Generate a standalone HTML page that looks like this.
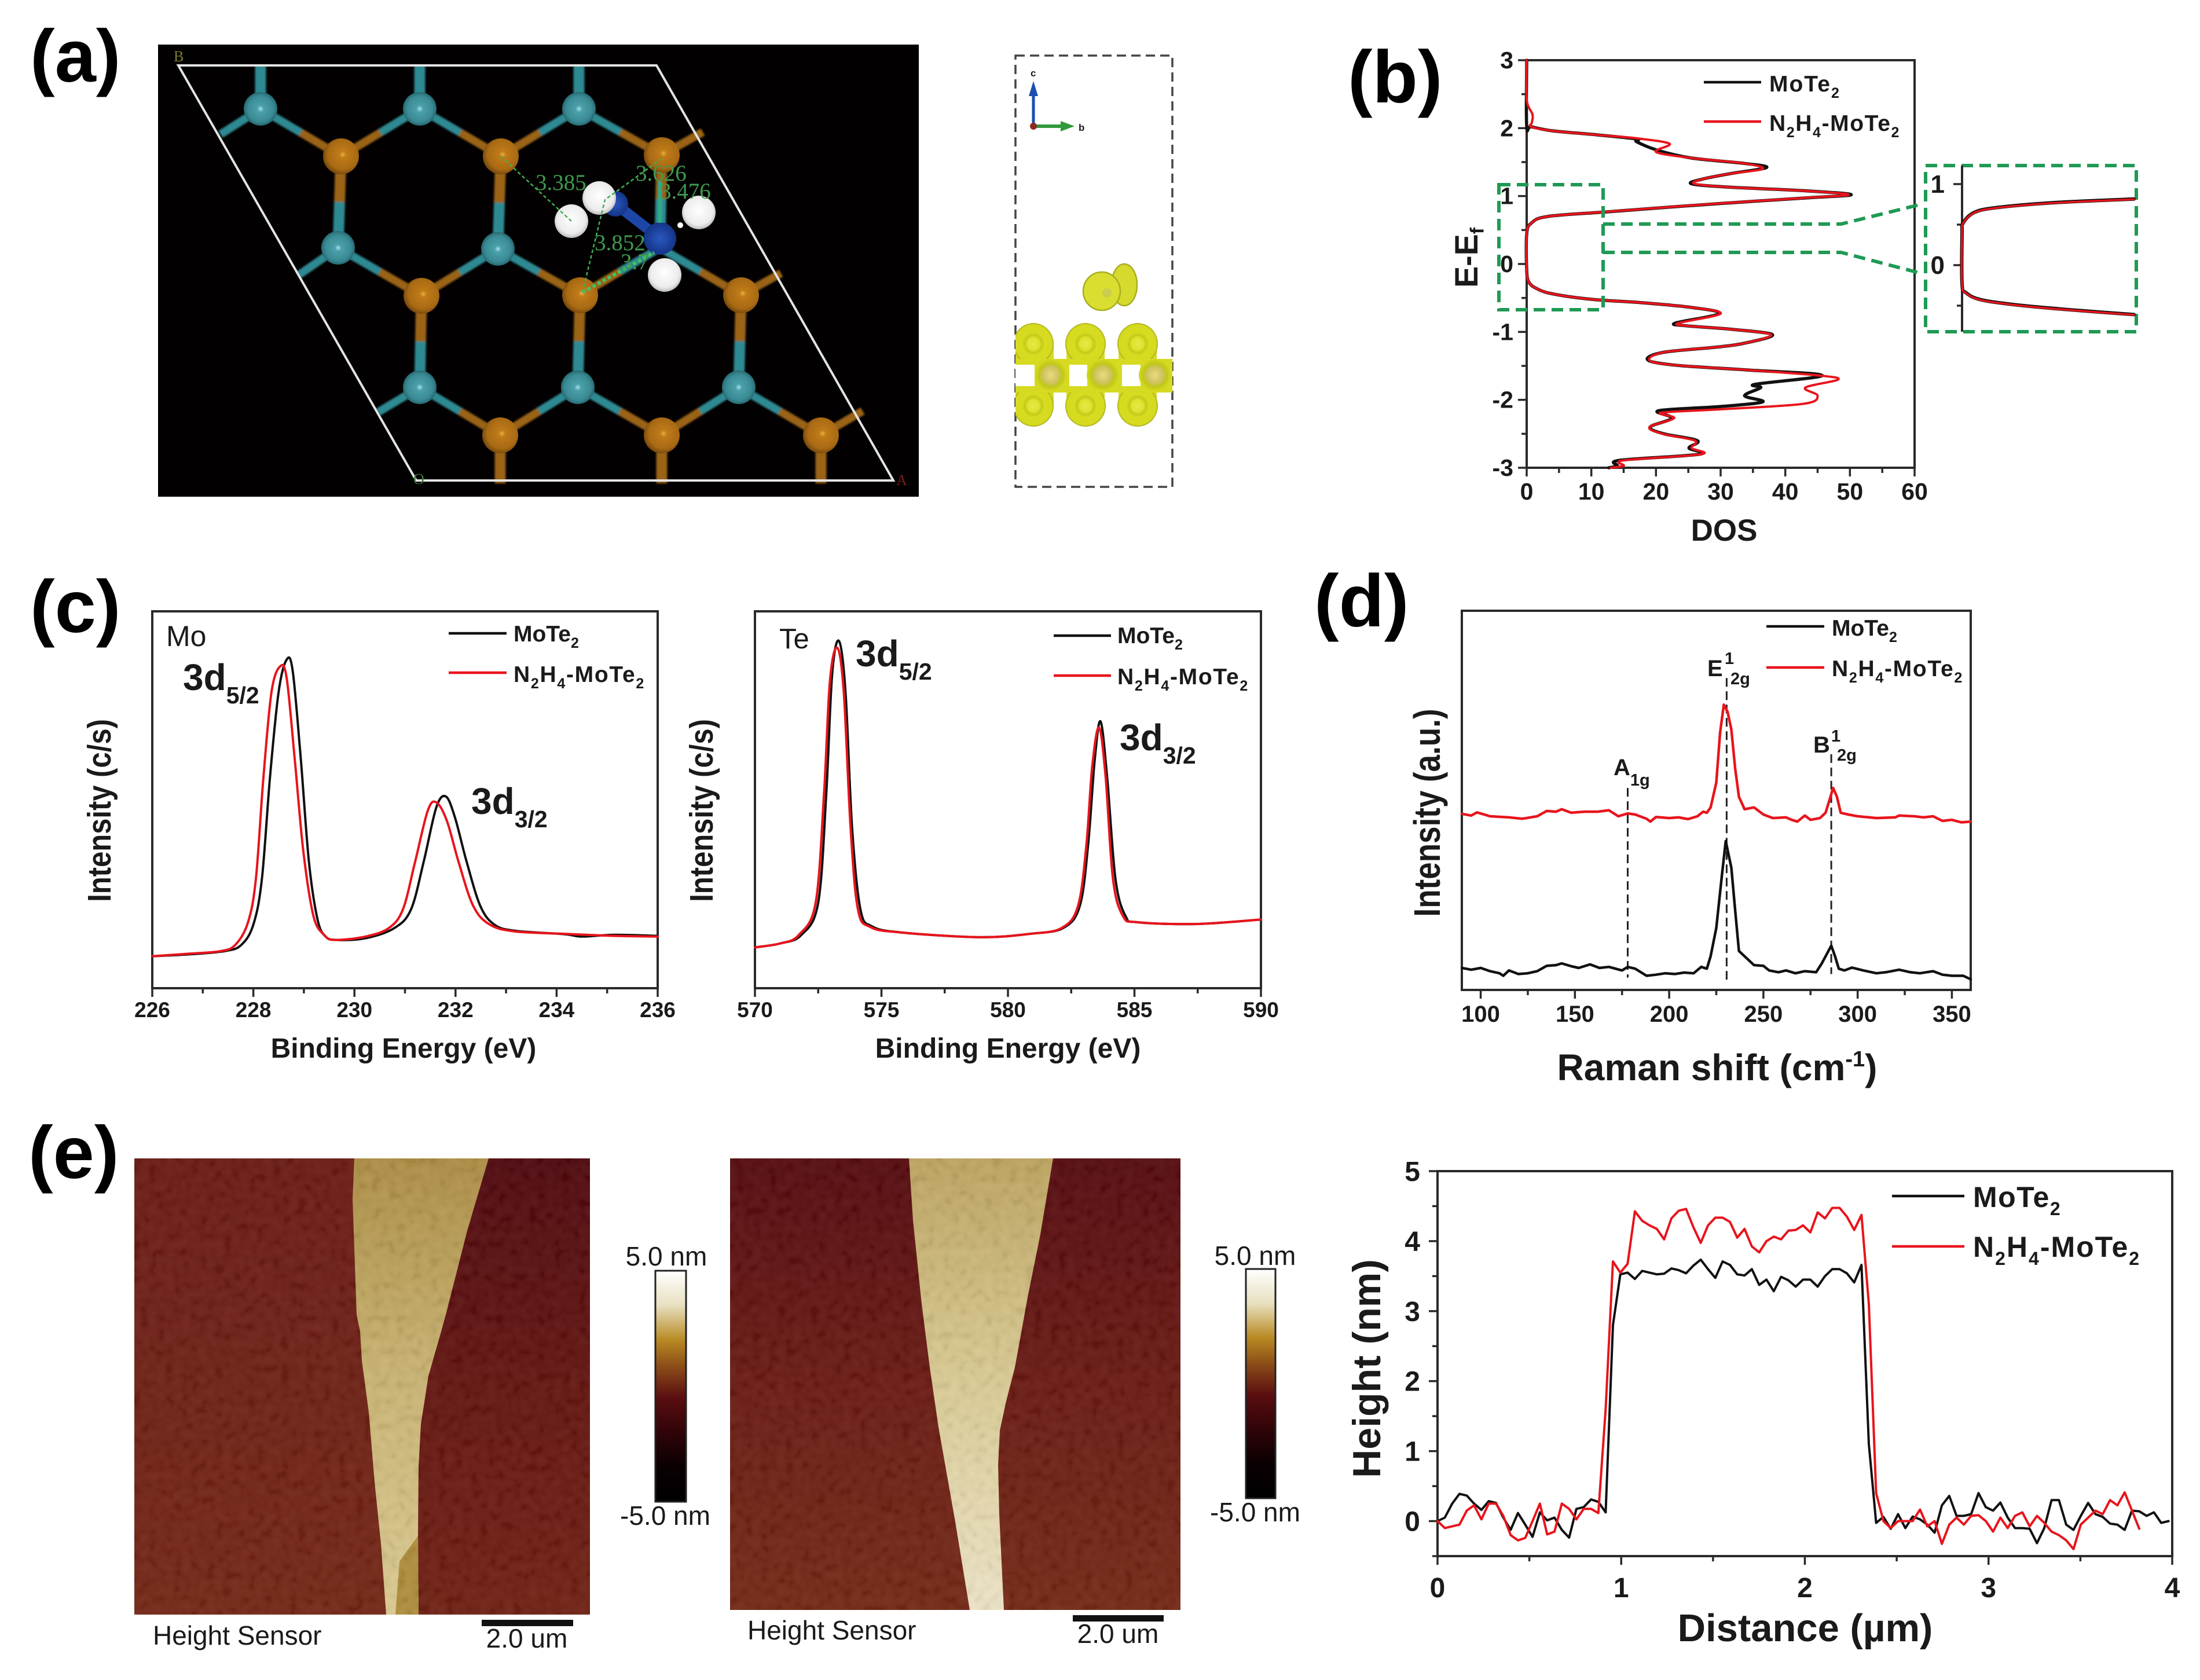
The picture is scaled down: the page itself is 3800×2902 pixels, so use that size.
<!DOCTYPE html>
<html lang="en">
<head>
<meta charset="utf-8">
<title>MoTe2 and N2H4-MoTe2 characterization figure</title>
<style>
html,body{margin:0;padding:0;background:#fff;}
svg{display:block;}
text{font-family:"Liberation Sans",sans-serif;fill:#1a1a1a;}
.panel{font-size:128px;font-weight:bold;fill:#000;}
.b{font-weight:bold;}
.serif{font-family:"Liberation Serif",serif;}
</style>
</head>
<body>
<svg id="figure" xmlns="http://www.w3.org/2000/svg" width="3800" height="2902" viewBox="0 0 3800 2902">
<defs>
  <radialGradient id="tealBall" cx="0.5" cy="0.5" r="0.55"><stop offset="0" stop-color="#a8e0e8"/><stop offset="0.18" stop-color="#4aa0aa"/><stop offset="0.7" stop-color="#3a8a94"/><stop offset="1" stop-color="#1f5a62"/></radialGradient>
  <radialGradient id="orangeBall" cx="0.55" cy="0.45" r="0.6"><stop offset="0" stop-color="#e8b040"/><stop offset="0.16" stop-color="#c07a18"/><stop offset="0.7" stop-color="#a86a14"/><stop offset="1" stop-color="#6a400a"/></radialGradient>
  <radialGradient id="whiteBall" cx="0.5" cy="0.45" r="0.6"><stop offset="0" stop-color="#ffffff"/><stop offset="0.7" stop-color="#ececec"/><stop offset="1" stop-color="#a8a8a8"/></radialGradient>
  <radialGradient id="blueBall" cx="0.5" cy="0.5" r="0.55"><stop offset="0" stop-color="#2a58c0"/><stop offset="1" stop-color="#123080"/></radialGradient>
  <radialGradient id="yellowLobe" cx="0.5" cy="0.5" r="0.5"><stop offset="0" stop-color="#e6e84a"/><stop offset="0.3" stop-color="#dfe22c"/><stop offset="0.42" stop-color="#c2ca1a"/><stop offset="0.56" stop-color="#d8dc20"/><stop offset="0.92" stop-color="#d6da20"/><stop offset="1" stop-color="#a2a81c"/></radialGradient>
  <radialGradient id="moAtom" cx="0.5" cy="0.5" r="0.5"><stop offset="0" stop-color="#e8dc80"/><stop offset="0.5" stop-color="#cfc260"/><stop offset="0.72" stop-color="#bfc818"/><stop offset="1" stop-color="#d6da20"/></radialGradient>
  <linearGradient id="colorScale" x1="0" y1="0" x2="0" y2="1">
    <stop offset="0" stop-color="#ffffff"/><stop offset="0.15" stop-color="#e8e0c0"/><stop offset="0.3" stop-color="#b88a22"/><stop offset="0.42" stop-color="#8a4a18"/><stop offset="0.55" stop-color="#5a0e10"/><stop offset="0.7" stop-color="#300408"/><stop offset="0.85" stop-color="#0a0002"/><stop offset="1" stop-color="#000000"/>
  </linearGradient>
  <linearGradient id="afmLeftSub" x1="0" y1="0" x2="0" y2="1"><stop offset="0" stop-color="#6a1a13"/><stop offset="1" stop-color="#742615"/></linearGradient>
  <linearGradient id="afmRightSub" x1="0" y1="0" x2="0" y2="1"><stop offset="0" stop-color="#50080e"/><stop offset="0.5" stop-color="#64140f"/><stop offset="1" stop-color="#702012"/></linearGradient>
  <linearGradient id="afmLeft2" x1="0" y1="0" x2="0" y2="1"><stop offset="0" stop-color="#560a0f"/><stop offset="0.5" stop-color="#6a1a12"/><stop offset="1" stop-color="#742815"/></linearGradient>
  <linearGradient id="flakeA" x1="0" y1="0" x2="0" y2="1"><stop offset="0" stop-color="#ae8e44"/><stop offset="0.5" stop-color="#ccb674"/><stop offset="1" stop-color="#dccb92"/></linearGradient>
  <linearGradient id="flakeB" x1="0" y1="0" x2="0" y2="1"><stop offset="0" stop-color="#bea560"/><stop offset="0.5" stop-color="#dccd95"/><stop offset="1" stop-color="#efe5c8"/></linearGradient>
  <filter id="afmNoise" x="0" y="0" width="1" height="1">
    <feTurbulence type="fractalNoise" baseFrequency="0.07" numOctaves="2" seed="4"/>
    <feGaussianBlur stdDeviation="2"/>
    <feColorMatrix type="matrix" values="1.6 0 0 0 -0.5  1.6 0 0 0 -0.5  1.6 0 0 0 -0.5  0 0 0 0 0.07"/>
  </filter>
  <filter id="softBlur" x="-5%" y="-5%" width="110%" height="110%"><feGaussianBlur stdDeviation="1.6"/></filter>
  <clipPath id="chgClip"><rect x="1754" y="96" width="271" height="745"/></clipPath>
  <clipPath id="crystalClip"><rect x="273" y="77" width="1314" height="781"/></clipPath>
</defs>

<!-- panel letters -->
<text class="panel" x="52" y="141">(a)</text>
<text class="panel" x="2328" y="177">(b)</text>
<text class="panel" x="52" y="1092">(c)</text>
<text class="panel" x="2270" y="1082">(d)</text>
<text class="panel" x="49" y="2035">(e)</text>

<!-- panel a -->
<g id="crystal" clip-path="url(#crystalClip)">
  <rect x="273" y="77" width="1314" height="781" fill="#030001"/>
  <g id="crystalBonds" filter="url(#softBlur)"></g>
  <g id="crystalAtoms"></g>
  <polygon points="308,113 1134,113 1543,830 719,830" fill="none" stroke="#e4e4e4" stroke-width="4"/>
  <g>
    <line x1="1063" y1="352" x2="1140" y2="412" stroke="#1d46a8" stroke-width="18"/>
    <circle cx="1063" cy="352" r="22" fill="url(#blueBall)"/>
    <circle cx="1140" cy="412" r="28" fill="url(#blueBall)"/>
    <circle cx="987" cy="382" r="29" fill="url(#whiteBall)"/>
    <circle cx="1035" cy="342" r="29" fill="url(#whiteBall)"/>
    <circle cx="1207" cy="367" r="29" fill="url(#whiteBall)"/>
    <circle cx="1148" cy="475" r="29" fill="url(#whiteBall)"/>
    <circle cx="1175" cy="389" r="5" fill="#ffffff"/>
  </g>
  <g stroke="#3fb050" stroke-width="2.5" stroke-dasharray="6 4" fill="none">
    <line x1="865" y1="270" x2="987" y2="382"/>
    <line x1="1143" y1="274" x2="1045" y2="345"/>
    <line x1="1140" y1="313" x2="1140" y2="385" stroke="#2fa888" stroke-width="7" stroke-dasharray="none"/>
    <line x1="1006" y1="505" x2="1045" y2="345"/>
    <line x1="1006" y1="505" x2="1130" y2="436" stroke="#45c060" stroke-width="6"/>
  </g>
  <g font-size="39">
    <text class="serif" style="fill:#3f9a50" x="925" y="328">3.385</text>
    <text class="serif" style="fill:#3f9a50" x="1098" y="312">3.626</text>
    <text class="serif" style="fill:#3f9a50" x="1140" y="343">3.476</text>
    <text class="serif" style="fill:#3f9a50" x="1027" y="432">3.852</text>
    <text class="serif" style="fill:#3f9a50" x="1072" y="465">3.7</text>
  </g>
  <text x="300" y="106" font-size="26" style="fill:#7d7d2c" class="serif">B</text>
  <text x="1548" y="838" font-size="26" style="fill:#7c1c1c" class="serif">A</text>
  <text x="714" y="836" font-size="26" style="fill:#3e7a3e" class="serif">O</text>
</g>

<g>
  <rect x="1754" y="96" width="271" height="745" fill="#fff" stroke="#444" stroke-width="3.5" stroke-dasharray="16 9"/>
  <g>
    <line x1="1785" y1="218" x2="1785" y2="150" stroke="#1c4fb0" stroke-width="5"/>
    <polygon points="1785,140 1777,166 1793,166" fill="#1c4fb0"/>
    <line x1="1785" y1="218" x2="1840" y2="218" stroke="#2f9a3a" stroke-width="6"/>
    <polygon points="1856,218 1832,209 1832,227" fill="#2f9a3a"/>
    <circle cx="1785" cy="218" r="6" fill="#8a2a20"/>
    <text x="1780" y="132" font-size="17" class="b">c</text>
    <text x="1863" y="226" font-size="17" class="b">b</text>
  </g>
  <g clip-path="url(#chgClip)">
    <ellipse cx="1942" cy="492" rx="22" ry="36" fill="#d6da2c" stroke="#a8ae20" stroke-width="2.5"/>
    <ellipse cx="1903" cy="503" rx="32" ry="33" fill="#dade30" stroke="#a8ae20" stroke-width="2.5"/>
    <circle cx="1912" cy="506" r="8" fill="#cccc50"/>
    <rect x="1754" y="594" width="66" height="107" fill="#d6da20"/>
    <rect x="1842" y="594" width="66" height="107" fill="#d6da20"/>
    <rect x="1932" y="594" width="66" height="107" fill="#d6da20"/>
    <g id="chgLobes"></g>
    <rect x="1754" y="620" width="271" height="58" fill="#d6da20"/>
    <rect x="1754" y="630" width="33" height="37" fill="#fff"/>
    <rect x="1847" y="630" width="31" height="37" fill="#fff"/>
    <rect x="1938" y="630" width="32" height="37" fill="#fff"/>
    <circle cx="1815" cy="648" r="28" fill="url(#moAtom)"/>
    <circle cx="1905" cy="648" r="28" fill="url(#moAtom)"/>
    <circle cx="1995" cy="648" r="28" fill="url(#moAtom)"/>
  </g>
</g>

<!-- panel b -->
<g id="panelB">
  <rect x="2637" y="104" width="670" height="704" fill="none" stroke="#2a2a2a" stroke-width="4"/>
  <g id="bTicks"></g>
  <g id="bLines"></g>
  <g fill="none" stroke="#1f9a55" stroke-width="6" stroke-dasharray="20 11">
    <rect x="2589" y="319" width="180" height="216"/>
    <polyline points="2769,387 3180,387 3314,354"/>
    <polyline points="2769,436 3180,436 3314,471"/>
    <rect x="3326" y="286" width="364" height="287"/>
  </g>
  <g id="bInset"></g>
  <text class="b" font-size="53" x="2978" y="934" text-anchor="middle">DOS</text>
  <text class="b" font-size="53" transform="translate(2552,445) rotate(-90) scale(1.05,1.05)" text-anchor="middle">E-E<tspan dy="10" font-size="32">f</tspan></text>
  <g>
    <line x1="2943" y1="142" x2="3042" y2="142" stroke="#111" stroke-width="4.5"/>
    <text class="b" font-size="39" style="letter-spacing:2px" x="3056" y="158">MoTe<tspan dy="11" font-size="25">2</tspan></text>
    <line x1="2943" y1="210" x2="3042" y2="210" stroke="#e8141c" stroke-width="4.5"/>
    <text class="b" font-size="39" style="letter-spacing:1.6px" x="3056" y="226">N<tspan dy="11" font-size="25">2</tspan><tspan dy="-11">H</tspan><tspan dy="11" font-size="25">4</tspan><tspan dy="-11">-MoTe</tspan><tspan dy="11" font-size="25">2</tspan></text>
  </g>
</g>

<!-- panel c -->
<g id="panelC1">
  <rect x="263" y="1056" width="873" height="651" fill="none" stroke="#2a2a2a" stroke-width="4"/>
  <g id="c1Ticks"></g>
  <g id="c1Lines"></g>
  <text font-size="50" x="287" y="1116">Mo</text>
  <text class="b" font-size="64" x="316" y="1192">3d<tspan dy="23" font-size="41">5/2</tspan></text>
  <text class="b" font-size="64" x="814" y="1406">3d<tspan dy="23" font-size="41">3/2</tspan></text>
  <text class="b" font-size="48" x="697" y="1827" text-anchor="middle">Binding Energy (eV)</text>
  <text class="b" font-size="49" transform="translate(191,1400) rotate(-90) scale(1,1.15)" text-anchor="middle">Intensity (c/s)</text>
  <g>
    <line x1="775" y1="1094" x2="875" y2="1094" stroke="#111" stroke-width="4.5"/>
    <text class="b" font-size="39" x="887" y="1108">MoTe<tspan dy="11" font-size="25">2</tspan></text>
    <line x1="775" y1="1162" x2="875" y2="1162" stroke="#e8141c" stroke-width="4.5"/>
    <text class="b" font-size="39" style="letter-spacing:1.7px" x="887" y="1178">N<tspan dy="11" font-size="25">2</tspan><tspan dy="-11">H</tspan><tspan dy="11" font-size="25">4</tspan><tspan dy="-11">-MoTe</tspan><tspan dy="11" font-size="25">2</tspan></text>
  </g>
</g>

<g id="panelC2">
  <rect x="1304" y="1056" width="874" height="651" fill="none" stroke="#2a2a2a" stroke-width="4"/>
  <g id="c2Ticks"></g>
  <g id="c2Lines"></g>
  <text font-size="49" x="1346" y="1120">Te</text>
  <text class="b" font-size="64" x="1478" y="1151">3d<tspan dy="23" font-size="41">5/2</tspan></text>
  <text class="b" font-size="64" x="1934" y="1296">3d<tspan dy="23" font-size="41">3/2</tspan></text>
  <text class="b" font-size="48" x="1741" y="1827" text-anchor="middle">Binding Energy (eV)</text>
  <text class="b" font-size="49" transform="translate(1231,1400) rotate(-90) scale(1,1.15)" text-anchor="middle">Intensity (c/s)</text>
  <g>
    <line x1="1820" y1="1098" x2="1919" y2="1098" stroke="#111" stroke-width="4.5"/>
    <text class="b" font-size="39" x="1930" y="1111">MoTe<tspan dy="11" font-size="25">2</tspan></text>
    <line x1="1820" y1="1167" x2="1919" y2="1167" stroke="#e8141c" stroke-width="4.5"/>
    <text class="b" font-size="39" style="letter-spacing:1.7px" x="1930" y="1182">N<tspan dy="11" font-size="25">2</tspan><tspan dy="-11">H</tspan><tspan dy="11" font-size="25">4</tspan><tspan dy="-11">-MoTe</tspan><tspan dy="11" font-size="25">2</tspan></text>
  </g>
</g>

<!-- panel d -->
<g id="panelD">
  <rect x="2525" y="1055" width="879" height="655" fill="none" stroke="#2a2a2a" stroke-width="4"/>
  <g id="dTicks"></g>
  <g id="dGuides"></g>
  <g id="dLines"></g>
  <text class="b" font-size="40" x="2787" y="1339">A<tspan dy="18" font-size="29">1g</tspan></text>
  <text class="b" font-size="40" x="2949" y="1168">E</text>
  <text class="b" font-size="29" x="2979" y="1147">1</text>
  <text class="b" font-size="29" x="2989" y="1182">2g</text>
  <text class="b" font-size="40" x="3132" y="1300">B</text>
  <text class="b" font-size="29" x="3163" y="1281">1</text>
  <text class="b" font-size="29" x="3173" y="1314">2g</text>
  <text class="b" font-size="64" x="2966" y="1866" text-anchor="middle">Raman shift (cm<tspan dy="-24" font-size="38">-1</tspan><tspan dy="24">)</tspan></text>
  <text class="b" font-size="53" transform="translate(2487,1404) rotate(-90) scale(1,1.2)" text-anchor="middle">Intensity (a.u.)</text>
  <g>
    <line x1="3051" y1="1082" x2="3151" y2="1082" stroke="#111" stroke-width="4.5"/>
    <text class="b" font-size="39" x="3164" y="1098">MoTe<tspan dy="11" font-size="25">2</tspan></text>
    <line x1="3051" y1="1153" x2="3151" y2="1153" stroke="#e8141c" stroke-width="4.5"/>
    <text class="b" font-size="39" style="letter-spacing:1.7px" x="3164" y="1168">N<tspan dy="11" font-size="25">2</tspan><tspan dy="-11">H</tspan><tspan dy="11" font-size="25">4</tspan><tspan dy="-11">-MoTe</tspan><tspan dy="11" font-size="25">2</tspan></text>
  </g>
</g>

<!-- panel e AFM -->
<g>
  <rect x="232" y="2001" width="787" height="788" fill="url(#afmLeftSub)"/>
  <rect x="700" y="2001" width="319" height="788" fill="url(#afmRightSub)"/>
  <polygon points="612,2001 844,2001 807,2126 770,2271 762,2300 740,2377 727,2460 723,2533 722,2650 723,2789 667,2789 658,2667 647,2560 637,2440 625,2350 622,2300 616,2271 609,2071" fill="url(#flakeA)"/>
  <polygon points="722,2653 690,2697 683,2789 723,2789" fill="#b08e3c"/>
  <rect x="232" y="2001" width="787" height="788" filter="url(#afmNoise)"/>
  <text font-size="46" x="264" y="2841">Height Sensor</text>
  <rect x="832" y="2798" width="158" height="11" fill="#111"/>
  <text font-size="46" x="910" y="2846" text-anchor="middle">2.0 um</text>
  <rect x="1132" y="2195" width="53" height="399" fill="url(#colorScale)" stroke="#222" stroke-width="3"/>
  <text font-size="46" x="1151" y="2186" text-anchor="middle">5.0 nm</text>
  <text font-size="46" x="1149" y="2634" text-anchor="middle">-5.0 nm</text>
</g>
<g>
  <rect x="1261" y="2001" width="778" height="780" fill="url(#afmLeft2)"/>
  <polygon points="1570,2001 1819,2001 1797,2132 1775,2241 1753,2362 1738,2420 1727,2471 1724,2530 1726,2617 1734,2781 1675,2781 1650,2629 1621,2465 1606,2362 1592,2253 1577,2108" fill="url(#flakeB)"/>
  <rect x="1261" y="2001" width="778" height="780" filter="url(#afmNoise)"/>
  <text font-size="46" x="1291" y="2832">Height Sensor</text>
  <rect x="1853" y="2790" width="157" height="11" fill="#111"/>
  <text font-size="46" x="1931" y="2838" text-anchor="middle">2.0 um</text>
  <rect x="2152" y="2192" width="51" height="396" fill="url(#colorScale)" stroke="#222" stroke-width="3"/>
  <text font-size="46" x="2168" y="2185" text-anchor="middle">5.0 nm</text>
  <text font-size="46" x="2168" y="2628" text-anchor="middle">-5.0 nm</text>
</g>

<!-- panel e profile -->
<g id="panelE">
  <rect x="2483" y="2023" width="1269" height="665" fill="none" stroke="#2a2a2a" stroke-width="4"/>
  <g id="eTicks"></g>
  <g id="eLines"></g>
  <text class="b" font-size="67" x="3118" y="2835" text-anchor="middle">Distance (µm)</text>
  <text class="b" font-size="68" transform="translate(2384,2364) rotate(-90)" text-anchor="middle">Height (nm)</text>
  <g>
    <line x1="3268" y1="2066" x2="3393" y2="2066" stroke="#111" stroke-width="4.5"/>
    <text class="b" font-size="50" style="letter-spacing:1.5px" x="3408" y="2085">MoTe<tspan dy="14" font-size="32">2</tspan></text>
    <line x1="3268" y1="2153" x2="3393" y2="2153" stroke="#e8141c" stroke-width="4.5"/>
    <text class="b" font-size="50" style="letter-spacing:2px" x="3408" y="2171">N<tspan dy="14" font-size="32">2</tspan><tspan dy="-14">H</tspan><tspan dy="14" font-size="32">4</tspan><tspan dy="-14">-MoTe</tspan><tspan dy="14" font-size="32">2</tspan></text>
  </g>
</g>
</svg>

<script>
// ---------- panel b: density of states ----------
const dosTicksX = [0, 10, 20, 30, 40, 50, 60];
const dosTicksY = [-3, -2, -1, 0, 1, 2, 3];
const dosEnergyMoTe2 = [-3,-2.97,-2.89,-2.8,-2.71,-2.6,-2.5,-2.4,-2.27,-2.16,-2.1,-2.03,-1.94,-1.82,-1.77,-1.64,-1.56,-1.49,-1.41,-1.3,-1.22,-1.16,-1.04,-0.96,-0.91,-0.87,-0.73,-0.64,-0.57,-0.52,-0.44,-0.36,-0.26,-0.08,0.44,0.6,0.7,0.77,0.89,0.97,1.02,1.08,1.13,1.18,1.25,1.33,1.42,1.48,1.56,1.67,1.8,1.84,1.9,1.96,2.02,2.03,3];
const dosValuesMoTe2 = [12.7,14,14.4,26.8,25.1,26.4,21.2,19.1,22.5,20.4,29.8,36.5,33.7,36.2,35.4,45.7,34,23,18.7,21.2,29.8,34,38,31.5,24.7,23,29.8,25.5,17.8,10,4,1.5,0.3,0,0,0.7,3.3,12.7,29.8,42.7,50.2,42.7,31.5,25.5,27.2,31.5,37.1,33.7,25.5,20.4,17,17,11,4,0.7,0,0];
const dosEnergyN2H4 = [-3,-2.97,-2.89,-2.8,-2.71,-2.6,-2.5,-2.4,-2.27,-2.19,-2.14,-2.06,-1.94,-1.82,-1.7,-1.64,-1.56,-1.49,-1.42,-1.3,-1.22,-1.16,-1.04,-0.96,-0.91,-0.87,-0.73,-0.64,-0.57,-0.52,-0.44,-0.36,-0.26,-0.08,0.44,0.6,0.7,0.77,0.89,0.97,1.02,1.08,1.13,1.18,1.25,1.33,1.4,1.48,1.56,1.65,1.77,1.85,1.9,1.96,2.02,2.08,2.2,2.42,3];
const dosValuesN2H4 = [13,15,15,27,25.5,26,21,19,22.8,20.8,29.8,42.7,45,43.1,48.2,45,34,23,19,21.2,29.8,34,37.8,31.5,24.7,23.5,30,25.5,17.8,10,4,1.5,0.3,0,0,0.7,3.3,12.5,29.5,42.5,49.8,42.5,31.5,26,27.2,31.5,36.5,33.7,25.5,20,22.1,17,11,4,0.7,0.8,0.9,0,0];
const insetEnergy = [-0.61,-0.56,-0.5,-0.43,-0.34,-0.23,0.39,0.52,0.65,0.71,0.77,0.816];
const insetDos = [12,8.2,4.3,1.4,0.27,0,0,0.08,0.85,2.4,6.3,12];
const insetTicks = [0, 1];

// ---------- panel c: XPS ----------
const moTicks = [226, 228, 230, 232, 234, 236];
const moEnergyMoTe2 = [226,226.77,227.43,227.76,228.0,228.17,228.33,228.5,228.66,228.78,228.94,229.1,229.27,229.43,229.65,230.22,230.79,231.12,231.37,231.62,231.81,231.99,232.22,232.49,232.77,233.18,234.16,234.49,235.15,236];
const moCountsMoTe2 = [94,100,109,127,187,322,622,872,967,932,672,372,202,152,142,147,177,232,372,532,564,502,372,242,187,169,159,152,157,154];
const moEnergyN2H4 = [226,226.77,227.35,227.64,227.89,228.05,228.2,228.36,228.53,228.66,228.82,228.99,229.19,229.4,229.61,230.22,230.68,230.96,231.2,231.45,231.62,231.83,232.06,232.35,232.68,233.18,234.16,235.15,236];
const moCountsN2H4 = [94,102,109,127,192,322,622,872,947,912,672,402,212,157,142,152,177,232,372,522,547,492,372,242,187,167,160,154,152];
const teTicks = [570, 575, 580, 585, 590];
const teEnergyMoTe2 = [570,571.02,571.84,572.5,572.82,573.05,573.32,573.58,573.84,574.17,574.63,575.78,578.9,580.87,582.18,582.84,583.17,583.43,583.66,583.92,584.25,584.65,585.14,587.44,590];
const teCountsMoTe2 = [120,132,157,252,572,922,1022,872,472,232,182,164,150,160,177,242,422,672,785,622,322,212,194,189,202];
const teEnergyN2H4 = [570,571.02,571.74,572.4,572.73,572.96,573.25,573.51,573.78,574.07,574.56,575.78,578.9,580.87,582.12,582.77,583.1,583.33,583.6,583.86,584.15,584.55,585.14,587.44,590];
const teCountsN2H4 = [120,132,157,252,572,902,1002,872,472,232,180,164,150,160,177,242,422,652,767,622,322,212,194,189,202];

// ---------- panel d: Raman ----------
const ramanTicks = [100, 150, 200, 250, 300, 350];
const ramanShiftMoTe2 = [90,95,100,105,110,112,115,120,125,130,135,140,143,148,152,158,163,168,175,178,182,188,193,198,203,208,213,217,220,222,225,228,230,233,235,237,241,245,250,253,258,262,267,272,278,281,284,286,288,290,293,297,303,310,315,322,328,333,340,345,350,356,360];
const ramanCountsMoTe2 = [62,57,62,53,47,40,55,45,47,53,68,70,75,67,62,72,62,65,55,65,60,40,43,47,45,49,47,65,60,95,175,325,420,345,225,110,90,70,68,55,50,55,47,53,50,75,105,125,95,60,55,63,55,47,50,57,50,47,53,43,40,40,30];
const ramanShiftN2H4 = [90,95,98,105,115,122,130,135,140,143,148,155,162,168,173,178,182,188,190,193,200,205,210,215,218,220,222,225,227,229,231,233,235,237,240,245,250,255,262,265,268,272,275,280,283,285,287,289,291,295,300,310,320,322,330,335,340,345,350,355,360];
const ramanCountsN2H4 = [497,492,501,490,487,483,490,505,503,510,500,503,503,507,490,498,495,483,475,488,485,487,482,490,503,500,515,585,725,805,785,735,625,545,510,515,495,485,487,480,475,492,480,485,500,535,570,545,500,495,490,485,487,492,490,487,490,477,480,473,475];
const ramanModes = [178, 230.5, 286];
const ramanModeTop = [570, 880, 665];
const ramanModeBottom = [35, 25, 45];

// ---------- panel e: height profile ----------
const heightTicksX = [0, 1, 2, 3, 4];
const heightTicksY = [0, 1, 2, 3, 4, 5];
const scanStepUm = 0.0398;
const heightMoTe2 = [0,0.05,0.25,0.39,0.365,0.25,0.16,0.285,0.26,0.05,-0.125,0.115,-0.05,-0.225,0.125,0.01,0.05,-0.125,-0.235,0.175,0.2,0.31,0.275,0.125,2.8,3.525,3.55,3.46,3.575,3.55,3.525,3.535,3.61,3.585,3.54,3.65,3.735,3.6,3.475,3.71,3.66,3.525,3.51,3.6,3.375,3.45,3.285,3.49,3.44,3.35,3.45,3.45,3.35,3.5,3.6,3.6,3.54,3.41,3.66,1.1,-0.025,0.06,-0.11,0.1,-0.1,0.065,0.025,-0.05,-0.165,0.225,0.36,0.075,0.075,0.1,0.4,0.2,0.15,0.265,0.05,-0.1,-0.1,-0.11,-0.315,-0.1,0.3,0.3,-0.05,-0.125,0.075,0.26,0.1,0.06,-0.035,-0.05,-0.125,0.15,0.14,0.075,0.125,-0.025,0];
const heightN2H4 = [0,-0.1,-0.075,-0.05,0.15,0.225,0.025,0.25,0.25,0.075,-0.2,-0.275,-0.24,0,0.25,-0.19,-0.15,0.25,0.175,0.025,0.175,0.175,0.115,1.6,3.71,3.55,3.675,4.425,4.29,4.225,4.175,4.025,4.325,4.435,4.46,4.2,3.975,4.225,4.335,4.335,4.275,4.05,4.175,3.925,3.84,4.0,4.065,4.025,4.15,4.16,4.225,4.125,4.41,4.325,4.475,4.475,4.35,4.16,4.375,3.1,0.4,0,-0.1,0,0,0,0.165,-0.075,0,-0.325,-0.05,0.05,-0.05,0.075,0.085,0,-0.15,0.05,-0.1,0.075,0.125,-0.075,0.075,-0.025,-0.15,-0.2,-0.275,-0.4,-0.05,0.05,0.15,0.1,0.3,0.225,0.41,0.15,-0.11];

// ---------- crystal picture lists ----------
const tealSites = [[450,188],[725,188],[1000,188],[584,428],[860,430],[725,669],[998,669],[1276,669]];
const orangeSites = [[589,270],[865,270],[1143,268],[728,511],[1002,510],[1280,510],[864,752],[1143,752],[1418,752]];
const latticeBonds = [
  [450,113,450,188,'t','t'],[725,113,725,188,'t','t'],[1000,113,1000,188,'t','t'],
  [450,188,381,232,'t','t'],[450,188,589,270,'t','o'],[589,270,725,188,'o','t'],[725,188,865,270,'t','o'],[865,270,1000,188,'o','t'],[1000,188,1143,268,'t','o'],[1143,268,1214,228,'o','o'],
  [589,270,584,428,'o','t'],[865,270,860,430,'o','t'],[1143,268,1140,420,'o','t'],
  [584,428,516,475,'t','t'],[584,428,728,511,'t','o'],[728,511,860,430,'o','t'],[860,430,1002,510,'t','o'],[1002,510,1140,428,'o','t'],[1140,428,1280,510,'t','o'],[1280,510,1349,472,'o','o'],
  [728,511,725,669,'o','t'],[1002,510,998,669,'o','t'],[1280,510,1276,669,'o','t'],
  [725,669,653,712,'t','t'],[725,669,864,752,'t','o'],[864,752,998,669,'o','t'],[998,669,1143,752,'t','o'],[1143,752,1276,669,'o','t'],[1276,669,1418,752,'t','o'],[1418,752,1490,710,'o','o'],
  [864,752,864,835,'o','o'],[1143,752,1143,835,'o','o'],[1418,752,1418,835,'o','o']
];
const moLobeCentres = [1785, 1875, 1965];

const SVGNS = 'http://www.w3.org/2000/svg';
function mk(tag, parent, attrs) {
  const el = document.createElementNS(SVGNS, tag);
  for (const k in attrs) el.setAttribute(k, attrs[k]);
  parent.appendChild(el);
  return el;
}
function linear(d0, d1, r0, r1) {
  return function (v) { return r0 + (v - d0) * (r1 - r0) / (d1 - d0); };
}
function smoothPath(xs, ys) {
  let d = 'M' + xs[0].toFixed(1) + ' ' + ys[0].toFixed(1);
  const n = xs.length;
  for (let i = 0; i < n - 1; i++) {
    const p0 = Math.max(i - 1, 0), p3 = Math.min(i + 2, n - 1);
    const c1x = xs[i] + (xs[i + 1] - xs[p0]) / 6, c1y = ys[i] + (ys[i + 1] - ys[p0]) / 6;
    const c2x = xs[i + 1] - (xs[p3] - xs[i]) / 6, c2y = ys[i + 1] - (ys[p3] - ys[i]) / 6;
    d += 'C' + c1x.toFixed(1) + ' ' + c1y.toFixed(1) + ' ' + c2x.toFixed(1) + ' ' + c2y.toFixed(1) + ' ' + xs[i + 1].toFixed(1) + ' ' + ys[i + 1].toFixed(1);
  }
  return d;
}
function linePath(xs, ys) {
  return xs.map(function (x, i) { return (i ? 'L' : 'M') + x.toFixed(1) + ' ' + ys[i].toFixed(1); }).join('');
}
function addSeries(parent, name, d, color, width) {
  const el = mk('path', parent, { d: d, fill: 'none', stroke: color, 'stroke-width': width, 'stroke-linejoin': 'round', 'stroke-linecap': 'round' });
  
  
  return el;
}
function xTicks(parent, prefix, majors, minorStep, sx, axisY, labelY, fontSize) {
  const lo = majors[0], hi = majors[majors.length - 1];
  const count = Math.round((hi - lo) / minorStep);
  for (let i = 0; i <= count; i++) {
    const v = lo + i * minorStep;
    const isMajor = majors.indexOf(v) >= 0;
    const t = mk('line', parent, { x1: sx(v), x2: sx(v), y1: axisY, y2: axisY + (isMajor ? 15 : 9), stroke: '#2a2a2a', 'stroke-width': 3.5 });
    
    
  }
  majors.forEach(function (v) {
    const l = mk('text', parent, { x: sx(v), y: labelY, 'font-size': fontSize, 'font-weight': 'bold', 'text-anchor': 'middle' });
    l.textContent = String(v);
    
    
  });
}
function yTicks(parent, prefix, majors, minorStep, lo, hi, sy, axisX, labelX, fontSize, drop) {
  const count = Math.round((hi - lo) / minorStep);
  for (let i = 0; i <= count; i++) {
    const v = lo + i * minorStep;
    const isMajor = majors.indexOf(v) >= 0;
    const t = mk('line', parent, { x1: axisX, x2: axisX - (isMajor ? 15 : 9), y1: sy(v), y2: sy(v), stroke: '#2a2a2a', 'stroke-width': 3.5 });
    
    
  }
  majors.forEach(function (v) {
    const l = mk('text', parent, { x: labelX, y: sy(v) + drop, 'font-size': fontSize, 'font-weight': 'bold', 'text-anchor': 'end' });
    l.textContent = String(v);
    
    
  });
}

// crystal picture
(function () {
  const bondLayer = document.getElementById('crystalBonds');
  const atomLayer = document.getElementById('crystalAtoms');
  const col = { t: '#2f8a92', o: '#9a6418' };
  latticeBonds.forEach(function (b) {
    const mx = (b[0] + b[2]) / 2, my = (b[1] + b[3]) / 2;
    const w = b[0] === b[2] || Math.abs(b[0] - b[2]) < 8 ? 19 : 14;
    const a = mk('line', bondLayer, { x1: b[0], y1: b[1], x2: mx, y2: my, stroke: col[b[4]], 'stroke-width': w });
    
    
    const c = mk('line', bondLayer, { x1: mx, y1: my, x2: b[2], y2: b[3], stroke: col[b[5]], 'stroke-width': w });
    
    
  });
  tealSites.forEach(function (s) {
    const a = mk('circle', atomLayer, { cx: s[0], cy: s[1], r: 29, fill: 'url(#tealBall)' });
    
    
  });
  orangeSites.forEach(function (s) {
    const a = mk('circle', atomLayer, { cx: s[0], cy: s[1], r: 31, fill: 'url(#orangeBall)' });
    
    
  });
  const lobes = document.getElementById('chgLobes');
  moLobeCentres.forEach(function (x) {
    [594, 701].forEach(function (y) {
      const l = mk('ellipse', lobes, { cx: x, cy: y, rx: 35, ry: 36, fill: 'url(#yellowLobe)' });
      
      
    });
  });
})();

// panel b
(function () {
  const sx = linear(0, 60, 2637, 3307), sy = linear(-3, 3, 808, 104);
  const ticks = document.getElementById('bTicks');
  xTicks(ticks, 'dos', dosTicksX, 5, sx, 808, 863, 41);
  yTicks(ticks, 'dos', dosTicksY, 0.5, -3, 3, sy, 2637, 2614, 41, 14);
  const lines = document.getElementById('bLines');
  addSeries(lines, 'dos-line-mote2', smoothPath(dosValuesMoTe2.map(sx), dosEnergyMoTe2.map(sy)), '#111', 5.5);
  addSeries(lines, 'dos-line-n2h4-mote2', smoothPath(dosValuesN2H4.map(sx), dosEnergyN2H4.map(sy)), '#e8141c', 4);
  const ix = linear(0, 12, 3389, 3686), iy = linear(0, 1, 458, 318);
  const inset = document.getElementById('bInset');
  const axis = mk('line', inset, { x1: 3389, x2: 3389, y1: 286, y2: 573, stroke: '#2a2a2a', 'stroke-width': 4 });
  
  
  yTicks(inset, 'inset', insetTicks, 0.5, -0.5, 1, iy, 3389, 3359, 44, 15);
  addSeries(inset, 'inset-line-mote2', smoothPath(insetDos.map(ix), insetEnergy.map(iy)), '#111', 6);
  addSeries(inset, 'inset-line-n2h4-mote2', smoothPath(insetDos.map(ix), insetEnergy.map(function (v) { return iy(v) + 0.5; })), '#e8141c', 3.5);
})();

// panel c
(function () {
  const sy = linear(0, 1109, 1707, 1056);
  const sx1 = linear(226, 236, 263, 1136);
  xTicks(document.getElementById('c1Ticks'), 'mo-xps', moTicks, 1, sx1, 1707, 1757, 37);
  const l1 = document.getElementById('c1Lines');
  addSeries(l1, 'mo-xps-line-mote2', smoothPath(moEnergyMoTe2.map(sx1), moCountsMoTe2.map(sy)), '#111', 4);
  addSeries(l1, 'mo-xps-line-n2h4-mote2', smoothPath(moEnergyN2H4.map(sx1), moCountsN2H4.map(sy)), '#e8141c', 4);
  const sx2 = linear(570, 590, 1304, 2178);
  xTicks(document.getElementById('c2Ticks'), 'te-xps', teTicks, 2.5, sx2, 1707, 1757, 37);
  const l2 = document.getElementById('c2Lines');
  addSeries(l2, 'te-xps-line-mote2', smoothPath(teEnergyMoTe2.map(sx2), teCountsMoTe2.map(sy)), '#111', 4);
  addSeries(l2, 'te-xps-line-n2h4-mote2', smoothPath(teEnergyN2H4.map(sx2), teCountsN2H4.map(sy)), '#e8141c', 4);
})();

// panel d
(function () {
  const sx = linear(90, 360, 2525, 3404), sy = linear(0, 1070, 1710, 1055);
  const ticks = document.getElementById('dTicks');
  const fine = [];
  for (let k = 0; k <= 10; k++) fine.push(100 + k * 25);
  fine.forEach(function (v) {
    const isMajor = ramanTicks.indexOf(v) >= 0;
    const t = mk('line', ticks, { x1: sx(v), x2: sx(v), y1: 1710, y2: 1710 + (isMajor ? 15 : 9), stroke: '#2a2a2a', 'stroke-width': 3.5 });
    
    
  });
  ramanTicks.forEach(function (v) {
    const l = mk('text', ticks, { x: sx(v), y: 1765, 'font-size': 40, 'font-weight': 'bold', 'text-anchor': 'middle' });
    l.textContent = String(v);
    
    
  });
  const guides = document.getElementById('dGuides');
  ramanModes.forEach(function (v, i) {
    const g = mk('line', guides, { x1: sx(v), x2: sx(v), y1: sy(ramanModeTop[i]), y2: sy(ramanModeBottom[i]), stroke: '#222', 'stroke-width': 3, 'stroke-dasharray': '15 8' });
    
    
  });
  const lines = document.getElementById('dLines');
  addSeries(lines, 'raman-line-mote2', linePath(ramanShiftMoTe2.map(sx), ramanCountsMoTe2.map(sy)), '#111', 4.5);
  addSeries(lines, 'raman-line-n2h4-mote2', linePath(ramanShiftN2H4.map(sx), ramanCountsN2H4.map(sy)), '#e8141c', 4.5);
})();

// panel e profile
(function () {
  const sx = linear(0, 4, 2483, 3752), sy = linear(-0.5, 5, 2688, 2023);
  const ticks = document.getElementById('eTicks');
  xTicks(ticks, 'height', heightTicksX, 0.5, sx, 2688, 2759, 48);
  yTicks(ticks, 'height', heightTicksY, 0.5, -0.5, 5, sy, 2483, 2453, 48, 17);
  const lines = document.getElementById('eLines');
  addSeries(lines, 'height-line-mote2', linePath(heightMoTe2.map(function (h, i) { return sx(i * scanStepUm); }), heightMoTe2.map(sy)), '#111', 4);
  addSeries(lines, 'height-line-n2h4-mote2', linePath(heightN2H4.map(function (h, i) { return sx(i * scanStepUm); }), heightN2H4.map(sy)), '#e8141c', 4);
})();
</script>
</body>
</html>
